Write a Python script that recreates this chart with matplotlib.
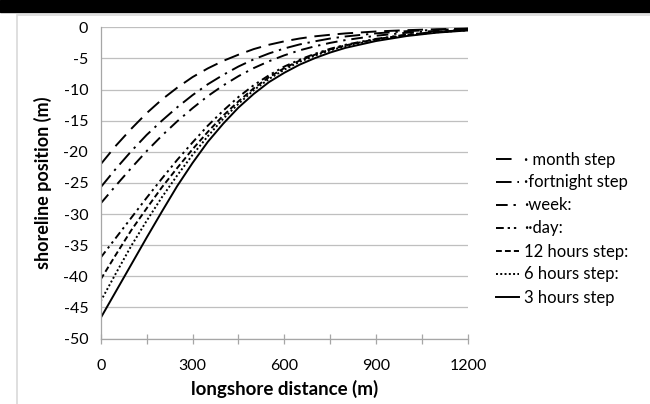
"""Shoreline position vs longshore distance for different time steps."""
import matplotlib
matplotlib.use("Agg")
import matplotlib.pyplot as plt
import matplotlib.ticker as mticker
from matplotlib.patches import Rectangle

plt.rcParams["font.family"] = ["Lato", "DejaVu Sans"]
plt.rcParams["axes.unicode_minus"] = False

# ── data ──────────────────────────────────────────────────────────────────────
distance = [0, 50, 100, 150, 200, 250, 300, 350, 400, 450, 500, 550, 600, 650, 700, 750, 800,
            900, 1000, 1100, 1200]

month_step = [-22.0, -19.0, -16.3, -13.8, -11.6, -9.7, -8.0, -6.6, -5.4, -4.4, -3.5, -2.8,
              -2.25, -1.8, -1.45, -1.2, -0.98, -0.67, -0.46, -0.31, -0.2]
fortnight_step = [-25.7, -22.7, -19.9, -17.3, -15.0, -12.85, -10.9, -9.15, -7.65, -6.3, -5.15,
                  -4.2, -3.4, -2.75, -2.25, -1.8, -1.47, -0.97, -0.62, -0.4, -0.25]
week_step = [-28.3, -25.4, -22.6, -19.9, -17.4, -15.1, -13.0, -11.05, -9.35, -7.85, -6.55,
             -5.45, -4.5, -3.7, -3.05, -2.5, -2.05, -1.35, -0.87, -0.56, -0.35]
day_step = [-37.0, -33.8, -30.6, -27.4, -24.3, -21.3, -18.5, -15.8, -13.4, -11.2, -9.3, -7.7,
            -6.3, -5.2, -4.25, -3.45, -2.8, -1.85, -1.18, -0.72, -0.42]
h12_step = [-40.5, -36.5, -32.6, -29.1, -25.7, -22.6, -19.6, -16.8, -14.2, -11.9, -9.8, -8.0,
            -6.55, -5.35, -4.4, -3.55, -2.9, -1.9, -1.22, -0.75, -0.43]
h6_step = [-44.0, -39.5, -35.1, -31.1, -27.3, -23.8, -20.5, -17.5, -14.7, -12.3, -10.1, -8.3,
           -6.8, -5.55, -4.55, -3.7, -3.05, -2.0, -1.28, -0.8, -0.46]
h3_step = [-46.7, -42.4, -38.1, -33.8, -29.6, -25.5, -21.8, -18.4, -15.5, -12.9, -10.7, -8.8,
           -7.3, -6.0, -4.95, -4.05, -3.3, -2.2, -1.4, -0.85, -0.5]

labels = ["\u00b7 month step", "\u00b7fortnight step", "\u00b7week:", "\u00b7\u00b7day:",
          "12 hours step:", "6 hours step:", "3 hours step"]
series = [month_step, fortnight_step, week_step, day_step, h12_step, h6_step, h3_step]
styles = [(0, (8, 4)), (0, (8, 3, 1.2, 3)), (0, (6, 3, 1.2, 3)), (0, (4, 2, 1.2, 2, 1.2, 2)),
          (0, (3, 1.6)), (0, (1, 1.2)), "-"]

# ── figure ────────────────────────────────────────────────────────────────────
fig = plt.figure(figsize=(6.5, 4.04), dpi=100)
W, H = 650, 404
fig.patches.append(Rectangle((0, (H - 12) / H), 1, 12 / H, transform=fig.transFigure,
                             color="black", zorder=0))
fig.patches.append(Rectangle((17 / W, -0.1), 1.2, (H - 15) / H + 0.1, transform=fig.transFigure,
                             facecolor="none", edgecolor="#d9d9d9", lw=1.2, zorder=0))

ax = fig.add_axes([100.7 / W, (H - 338.5) / H, (468 - 100.7) / W, (338.5 - 27.3) / H])

for y, lab, ls in zip(series, labels, styles):
    ax.plot(distance, y, color="black", lw=1.4, ls=ls, label=lab)

ax.set_xlim(0, 1200)
ax.set_ylim(-50, 0)
ax.xaxis.set_major_locator(mticker.MultipleLocator(300))
ax.xaxis.set_minor_locator(mticker.MultipleLocator(150))
ax.yaxis.set_major_locator(mticker.MultipleLocator(5))
ax.grid(True, axis="y", color="#bfbfbf", lw=0.9)
ax.set_axisbelow(True)
for side in ("top", "right"):
    ax.spines[side].set_visible(False)
for side in ("left", "bottom"):
    ax.spines[side].set_color("#a6a6a6")
    ax.spines[side].set_linewidth(0.9)

ax.tick_params(axis="y", length=0, pad=9, labelsize=11.5)
ax.tick_params(axis="x", which="both", direction="inout", length=7, color="#a6a6a6",
               width=0.9, pad=11, labelsize=11.5)

ax.set_xlabel("longshore distance (m)", fontsize=13.5, fontweight="bold", labelpad=5)
ax.set_ylabel("shoreline position (m)", fontsize=13, fontweight="bold", labelpad=8)

fig.legend(loc="center left", bbox_to_anchor=(496 / W, (H - 228.5) / H), frameon=False,
           fontsize=12, handlelength=1.4, handletextpad=0.3, labelspacing=0.42,
           borderaxespad=0, borderpad=0)

fig.savefig("out.png", dpi=100)
